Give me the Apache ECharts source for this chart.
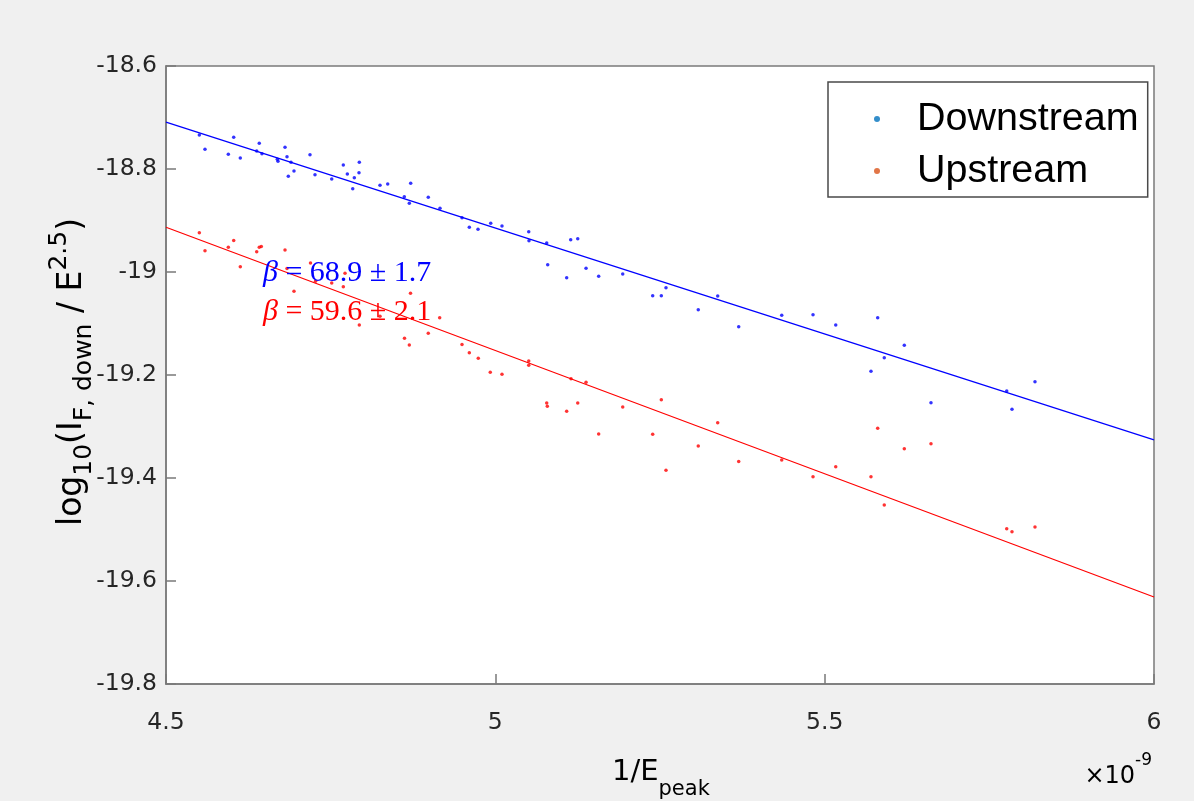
<!DOCTYPE html>
<html>
<head>
<meta charset="utf-8">
<script src="https://cdn.jsdelivr.net/npm/echarts@6/dist/echarts.min.js"></script>
<style>
html,body{margin:0;padding:0;background:#F0F0F0;}
#chart{width:1194px;height:801px;}
</style>
</head>
<body>
<div id="chart"></div>
<script>
// x values in units of 1e-9 (1/E_peak)
var downX = [4.5506,4.5592,4.6028,4.5946,4.6128,4.6416,4.6377,4.6457,4.6690,4.6700,4.6807,4.6837,4.6857,4.6898,4.6943,4.7186,4.7262,4.7516,4.7692,4.7753,4.7835,4.7859,4.7935,4.7930,4.8249,4.8366,4.8715,4.8618,4.8694,4.8982,4.9160,4.9494,4.9605,4.9737,4.9930,5.0101,5.0507,5.0511,5.0780,5.0795,5.1144,5.1251,5.1083,5.1377,5.1569,5.1934,5.2389,5.2520,5.2591,5.3081,5.3376,5.3695,5.4348,5.4823,5.5168,5.5805,5.6209,5.5905,5.5703,5.6614,5.7764,5.8193,5.7844];
var downY = [-18.734,-18.7617,-18.7384,-18.7715,-18.7786,-18.7501,-18.7650,-18.7703,-18.7812,-18.7850,-18.7579,-18.7761,-18.8142,-18.7870,-18.8039,-18.7722,-18.8111,-18.8194,-18.7922,-18.8097,-18.8383,-18.8169,-18.7870,-18.8072,-18.8317,-18.8291,-18.8278,-18.8538,-18.8666,-18.8550,-18.8763,-18.8946,-18.9132,-18.9171,-18.9054,-18.9107,-18.9217,-18.9392,-18.9437,-18.9858,-18.9373,-18.9353,-19.0111,-18.9928,-19.0083,-19.0039,-19.0460,-19.0460,-19.0305,-19.0732,-19.0466,-19.1062,-19.0841,-19.0829,-19.1029,-19.0887,-19.1423,-19.1664,-19.1928,-19.2538,-19.2311,-19.2130,-19.2666];
var upX = [4.5506,4.5592,4.5946,4.6028,4.6128,4.6377,4.6416,4.6447,4.6807,4.6837,4.6943,4.7194,4.7270,4.7516,4.7692,4.7718,4.7935,4.8249,4.8712,4.8621,4.8694,4.8982,4.9155,4.9494,4.9605,4.9741,4.9923,5.0101,5.0507,5.0507,5.0780,5.0789,5.1149,5.1377,5.1083,5.1251,5.1569,5.1934,5.2389,5.2520,5.2591,5.3081,5.3376,5.3695,5.4348,5.4823,5.5168,5.5805,5.6209,5.6614,5.5703,5.5905,5.7764,5.7844,5.8193];
var upY = [-18.9237,-18.9586,-18.9520,-18.9388,-18.9897,-18.9608,-18.9520,-18.9505,-18.9573,-18.9932,-19.0375,-18.9825,-19.0181,-19.0214,-19.0285,-19.0025,-19.1029,-19.0860,-19.0414,-19.1287,-19.1417,-19.1190,-19.0887,-19.1408,-19.1567,-19.1674,-19.1948,-19.1986,-19.1728,-19.1812,-19.2544,-19.2608,-19.2072,-19.2142,-19.2705,-19.2544,-19.3146,-19.2621,-19.3150,-19.2480,-19.3850,-19.3379,-19.2926,-19.3680,-19.3650,-19.3975,-19.3780,-19.3035,-19.3431,-19.3334,-19.3975,-19.4524,-19.4984,-19.5043,-19.4951];
var fitX = [4.5, 6.0];
var downFitY = [-18.709, -19.326];
var upFitY = [-18.913, -19.631];
var xTicks = [4.5, 5, 5.5, 6];
var yTicks = [-18.6, -18.8, -19, -19.2, -19.4, -19.6, -19.8];
var seriesNames = ['Downstream', 'Upstream'];
var betaDown = '68.9 \u00B1 1.7';
var betaUp = '59.6 \u00B1 2.1';

function zip(a, b) { return a.map(function (v, i) { return [v, b[i]]; }); }

var chart = echarts.init(document.getElementById('chart'), null, {renderer: 'canvas'});
var axisCol = '#262626';
var sans = 'DejaVu Sans';
var option = {
  animation: false,
  backgroundColor: '#F0F0F0',
  grid: {left: 166, top: 66, width: 988, height: 618, show: true, backgroundColor: '#FFFFFF', borderColor: '#7a7a7a', borderWidth: 1.5},
  xAxis: {
    type: 'value', min: xTicks[0], max: xTicks[xTicks.length - 1], interval: 0.5,
    splitLine: {show: false},
    axisLine: {show: true, onZero: false, lineStyle: {color: '#7a7a7a', width: 1.5}},
    axisTick: {show: true, inside: true, length: 10, lineStyle: {color: '#7a7a7a', width: 1.5}},
    axisLabel: {margin: 27, color: axisCol, fontFamily: sans, fontSize: 23.5, formatter: function (v) { return String(+v.toFixed(1)); }}
  },
  yAxis: {
    type: 'value', min: yTicks[yTicks.length - 1], max: yTicks[0], interval: 0.2,
    splitLine: {show: false},
    axisLine: {show: true, onZero: false, lineStyle: {color: '#7a7a7a', width: 1.5}},
    axisTick: {show: true, inside: true, length: 10, lineStyle: {color: '#7a7a7a', width: 1.5}},
    axisLabel: {margin: 9, color: axisCol, fontFamily: sans, fontSize: 23.5, formatter: function (v) { return String(+v.toFixed(1)); }}
  },
  legend: {
    data: seriesNames, orient: 'vertical', left: 828, top: 82,
    padding: [15, 9, 4, 46], itemGap: 8, itemWidth: 70, itemHeight: 6, icon: 'circle',
    backgroundColor: '#FFFFFF', borderColor: '#4a4a4a', borderWidth: 1.5,
    textStyle: {fontFamily: 'Liberation Sans', fontSize: 39.5, color: '#000000', lineHeight: 44},
    selectedMode: false
  },
  series: [
    {name: 'downPts', type: 'scatter', data: zip(downX, downY), symbolSize: 3.5, itemStyle: {color: '#0000FF'}, z: 3},
    {name: 'upPts', type: 'scatter', data: zip(upX, upY), symbolSize: 3.5, itemStyle: {color: '#FF0000'}, z: 3},
    {name: 'downFit', type: 'line', data: zip(fitX, downFitY), showSymbol: false, lineStyle: {color: '#0000FF', width: 1.2}, itemStyle: {color: '#0000FF'}},
    {name: 'upFit', type: 'line', data: zip(fitX, upFitY), showSymbol: false, lineStyle: {color: '#FF0000', width: 1.2}, itemStyle: {color: '#FF0000'}},
    {name: seriesNames[0], type: 'scatter', data: [], itemStyle: {color: '#0072BD'}},
    {name: seriesNames[1], type: 'scatter', data: [], itemStyle: {color: '#D95319'}}
  ],
  graphic: [
    {type: 'text', z: 100, x: 72, y: 372, rotation: Math.PI / 2,
      style: {text: '{n|log}{b|10}{n|(I}{b|F, down}{n| / E}{p|2.5}{n|)}', align: 'center', verticalAlign: 'middle',
        rich: {
          n: {fontFamily: sans, fontSize: 33, color: axisCol, lineHeight: 50, verticalAlign: 'middle'},
          b: {fontFamily: sans, fontSize: 25, color: axisCol, lineHeight: 25, verticalAlign: 'bottom'},
          p: {fontFamily: sans, fontSize: 25, color: axisCol, lineHeight: 25, verticalAlign: 'top'}
        }}},
    {type: 'text', z: 100, x: 612, y: 772,
      style: {text: '{n|1/E}{b|peak}', align: 'left', verticalAlign: 'middle',
        rich: {
          n: {fontFamily: sans, fontSize: 29, color: axisCol, lineHeight: 56, verticalAlign: 'middle'},
          b: {fontFamily: sans, fontSize: 21, color: axisCol, lineHeight: 21, verticalAlign: 'bottom'}
        }}},
    {type: 'text', z: 100, x: 1152, y: 777,
      style: {text: '{n|\u00D710}{p|-9}', align: 'right', verticalAlign: 'middle',
        rich: {
          n: {fontFamily: sans, fontSize: 24, color: axisCol, lineHeight: 50, verticalAlign: 'middle'},
          p: {fontFamily: sans, fontSize: 17, color: axisCol, lineHeight: 17, verticalAlign: 'top'}
        }}},
    {type: 'text', z: 100, x: 263, y: 273,
      style: {text: '{i|\u03B2} = ' + betaDown, align: 'left', verticalAlign: 'middle', fill: '#0000FF',
        fontFamily: 'Liberation Serif', fontSize: 30,
        rich: {i: {fontFamily: 'Liberation Serif', fontStyle: 'italic', fontSize: 30, color: '#0000FF'}}}},
    {type: 'text', z: 100, x: 263, y: 312,
      style: {text: '{i|\u03B2} = ' + betaUp, align: 'left', verticalAlign: 'middle', fill: '#FF0000',
        fontFamily: 'Liberation Serif', fontSize: 30,
        rich: {i: {fontFamily: 'Liberation Serif', fontStyle: 'italic', fontSize: 30, color: '#FF0000'}}}}
  ]
};
chart.setOption(option);
</script>
</body>
</html>
